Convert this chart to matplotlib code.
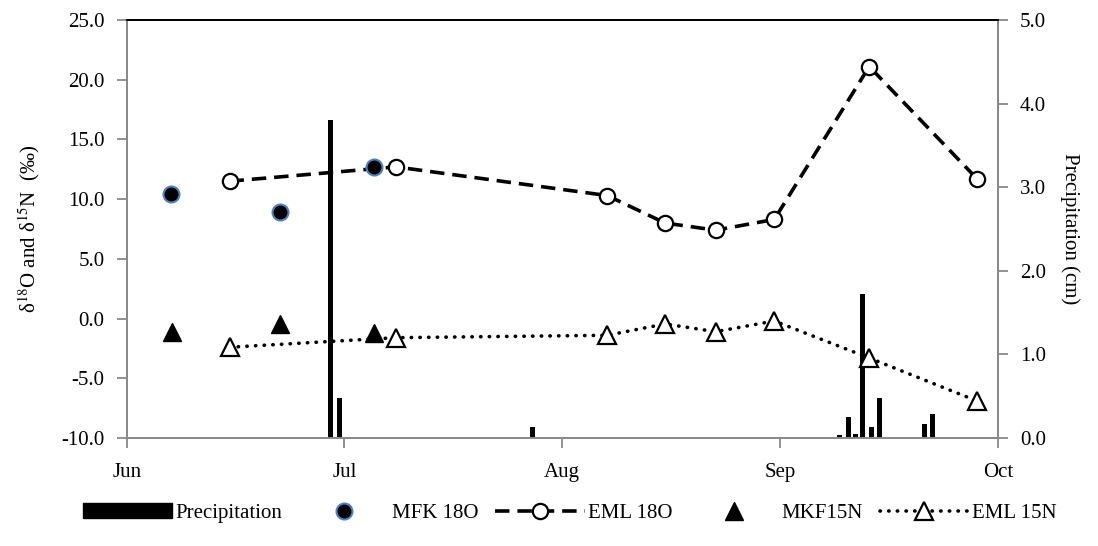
import numpy as np
import matplotlib
matplotlib.use("Agg")
import matplotlib.pyplot as plt
from matplotlib.lines import Line2D
from matplotlib.patches import Patch

plt.rcParams['font.family'] = ['Liberation Serif', 'DejaVu Serif']
plt.rcParams['mathtext.fontset'] = 'stix'
plt.rcParams['font.size'] = 15

## Data (x = days after Jun 1)
mfk_day = [6.2, 21.5, 34.6]
mfk_18o = [10.4, 8.9, 12.7]

eml_day = [14.4, 37.7, 67.3, 75.4, 82.5, 90.7, 104.0, 119.1]
eml_18o = [11.5, 12.7, 10.3, 8.0, 7.4, 8.3, 21.1, 11.7]
eml_15n = [-2.4, -1.6, -1.4, -0.45, -1.1, -0.2, -3.3, -6.9]

mkf_day = [6.3, 21.5, 34.7]
mkf_15n = [-1.1, -0.45, -1.25]

precip_day = [28.6, 29.8, 56.8, 99.9, 101.1, 102.1, 103.1, 104.3, 105.4, 111.8, 112.9]
precip_cm = [3.8, 0.48, 0.13, 0.03, 0.25, 0.05, 1.72, 0.13, 0.48, 0.17, 0.29]

month_pos = [0, 30.5, 61, 91.5, 122]
month_lab = ["Jun", "Jul", "Aug", "Sep", "Oct"]

grey = "#898989"
blue = "#4f81bd"

fig = plt.figure(figsize=(10.98, 5.46), dpi=100)
ax = fig.add_axes([0.1154, 0.1978, 0.7933, 0.7656])
ax2 = ax.twinx()

# precipitation bars on right axis, behind everything
ax2.bar(precip_day, precip_cm, width=0.7, color="black", zorder=1)
ax2.set_ylim(0, 5)
ax2.set_yticks(np.arange(0, 5.01, 1.0))
ax2.set_yticklabels([f"{v:.1f}" for v in np.arange(0, 5.01, 1.0)])
ax2.set_ylabel("Precipitation (cm)", rotation=270, labelpad=24)

ax.set_zorder(ax2.get_zorder() + 1)
ax.patch.set_visible(False)

# isotope series
ax.plot(eml_day, eml_18o, color="black", lw=2.6, dashes=(4, 2.2),
        marker="o", ms=11, mfc="white", mec="black", mew=1.6, zorder=3)
ax.plot(eml_day, eml_15n, color="black", lw=2.6, dashes=(0.1, 2.3), dash_capstyle="round",
        marker="^", ms=12.5, mfc="white", mec="black", mew=1.6, zorder=3)
ax.plot(mfk_day, mfk_18o, ls="none", marker="o", ms=11.5, mfc="black", mec=blue, mew=1.5, zorder=4)
ax.plot(mkf_day, mkf_15n, ls="none", marker="^", ms=13, mfc="black", mec="black", mew=1, zorder=4)

ax.set_xlim(0, 122)
ax.set_ylim(-10, 25)
ax.set_xticks(month_pos)
ax.set_xticklabels(month_lab)
ax.set_yticks(np.arange(-10, 25.01, 5))
ax.set_yticklabels([f"{v:.1f}" for v in np.arange(-10, 25.01, 5)])
ax.set_ylabel(r"δ$^{18}$O and δ$^{15}$N  (‰)", labelpad=14)

# spines and ticks
for a in (ax, ax2):
    for s in ("left", "right", "bottom"):
        a.spines[s].set_color(grey)
        a.spines[s].set_linewidth(1.3)
    a.spines["top"].set_color("black")
    a.spines["top"].set_linewidth(1.3)
ax.tick_params(axis="y", direction="out", length=7, width=1.3, color=grey, pad=9)
ax.tick_params(axis="x", direction="out", length=7, width=1.3, color=grey, pad=11)
ax2.tick_params(axis="y", direction="out", length=7, width=1.3, color=grey, pad=9)

# legend
handles = [
    Patch(facecolor="black", edgecolor="black"),
    Line2D([], [], ls="none", marker="o", ms=11.5, mfc="black", mec=blue, mew=1.5),
    Line2D([], [], color="black", lw=2.6, dashes=(4, 2.2), marker="o", ms=11, mfc="white", mec="black", mew=1.6),
    Line2D([], [], ls="none", marker="^", ms=13, mfc="black", mec="black"),
    Line2D([], [], color="black", lw=2.6, dashes=(0.1, 2.3), dash_capstyle="round",
           marker="^", ms=12.5, mfc="white", mec="black", mew=1.6),
]
labels = ["Precipitation", "MFK 18O", "EML 18O", "MKF15N", "EML 15N"]
fig.legend(handles, labels, loc="center", bbox_to_anchor=(0.519, 0.06), ncol=5, frameon=False,
           handlelength=4.3, handletextpad=0.15, columnspacing=0.8)

fig.savefig("out.png", dpi=100)
